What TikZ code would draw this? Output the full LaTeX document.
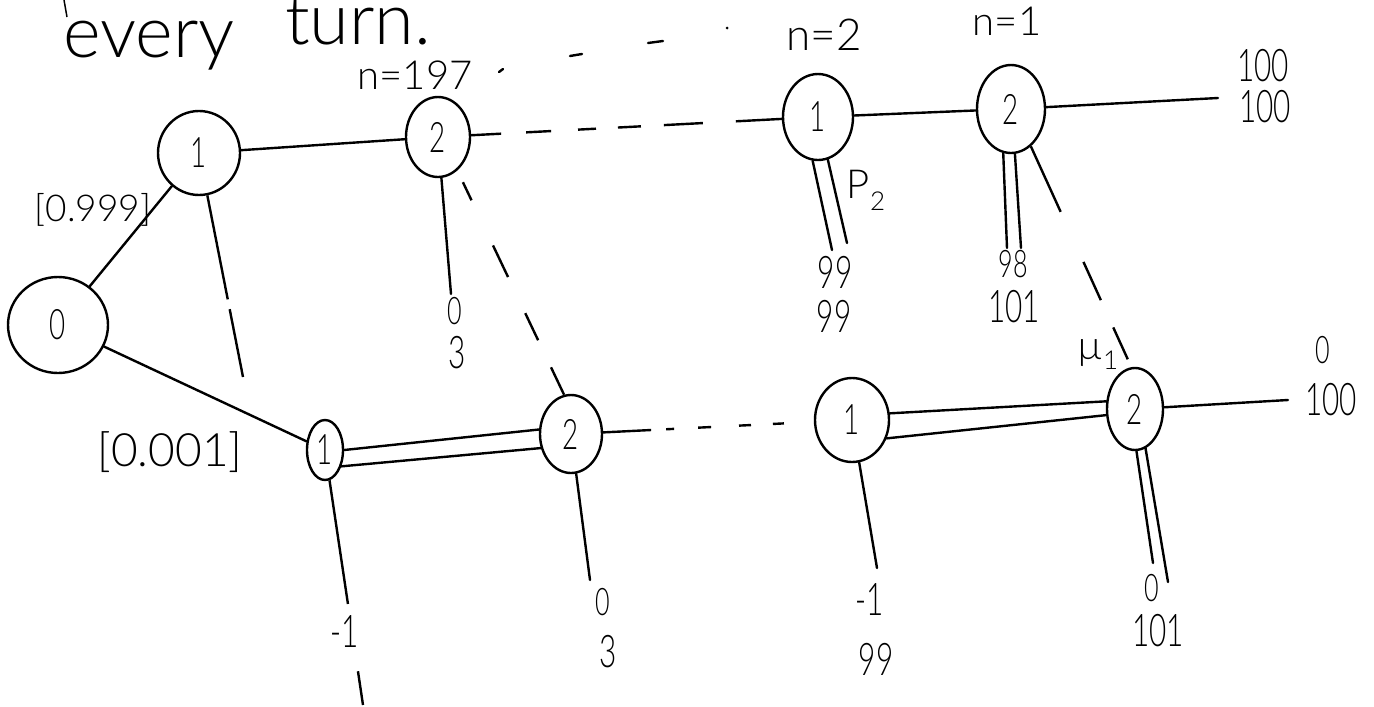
\documentclass[tikz,border=0pt]{standalone}
\usepackage{fontspec}
\usepackage{graphicx}
\setmainfont{Lato Light}
\usetikzlibrary{shapes.geometric}
\newcommand{\nar}[1]{\scalebox{0.66}[1]{#1}}
\begin{document}
\begin{tikzpicture}[x=1pt,y=-1pt,
  ink/.style={line width=2.4pt, line cap=round, line join=round},
  st/.style={ellipse, draw, line width=2.4pt, inner sep=0pt, font=\fontsize{42}{44}\selectfont},
  lab/.style={inner sep=0pt, font=\fontsize{45}{47}\selectfont},
  sml/.style={inner sep=0pt, font=\fontsize{38}{40}\selectfont},
  big/.style={inner sep=0pt, font=\fontsize{72}{74}\selectfont},
]
\fill[white] (0,0) rectangle (1374,707);
\useasboundingbox (0,0) rectangle (1374,707);

% heading
\node[big, anchor=base west] (every) at (63,57) {every};
\node[big, anchor=base west] (turn) at (285,44) {turn.};
\draw[line width=1.5pt] (64,0) -- (67,17);

% stage labels
\node[lab, font=\fontsize{40}{42}\selectfont] (n197) at (415,75) {n=197};
\node[lab, font=\fontsize{44}{46}\selectfont] (n2) at (824,35) {n=2};
\node[lab, font=\fontsize{40}{42}\selectfont] (n1) at (1007,21) {n=1};
\draw[ink] (499,72) -- (503,69);
\draw[ink] (570,56) -- (582,54);
\draw[ink] (648,43) -- (663,41);
\fill (727,28) circle (1.5pt);

% nodes
\node[st, minimum width=100pt, minimum height=96pt] (r0) at (58,325) {\nar{0}};
\node[st, minimum width=82pt, minimum height=84pt] (a1) at (199,153) {\nar{1}};
\node[st, minimum width=64pt, minimum height=80pt] (a2) at (438,137) {\nar{2}};
\node[st, minimum width=70pt, minimum height=86pt] (a3) at (818,117) {\nar{1}};
\node[st, minimum width=68pt, minimum height=88pt] (a4) at (1011,109) {\nar{2}};
\node[st, minimum width=36pt, minimum height=60pt] (b1) at (325,450) {\nar{1}};
\node[st, minimum width=62pt, minimum height=78pt] (b2) at (571,434) {\nar{2}};
\node[st, minimum width=74pt, minimum height=84pt] (b3) at (852,420) {\nar{1}};
\node[st, minimum width=56pt, minimum height=82pt] (b4) at (1135,409) {\nar{2}};

% free ends
\coordinate (a1d) at (243,377);
\coordinate (a2d) at (451,294);
\coordinate (a3p) at (832,250);
\coordinate (a3q) at (847,243);
\coordinate (a4p) at (1007,248);
\coordinate (a4q) at (1021,248);
\coordinate (a4r) at (1218,98);
\coordinate (b1d) at (363,705);
\coordinate (b2d) at (590,580);
\coordinate (b3d) at (877,568);
\coordinate (b4p) at (1153,563);
\coordinate (b4q) at (1168,582);
\coordinate (b4r) at (1288,400);

% connectors
\draw[ink] (r0) -- (a1);
\draw[ink] (r0) -- (b1);
\draw[ink] (a1) -- (a2);
\draw[ink, line cap=butt, dash pattern=on 106pt off 10pt on 70pt] (a1) -- (a1d);
\draw[ink] (a2) -- (a2d);
\draw[ink, line cap=butt, dash pattern=on 30pt off 25pt on 25pt off 27pt on 18pt off 22pt on 23pt off 23pt on 39pt off 33pt on 60pt] (a2) -- (a3);
\draw[ink, line cap=butt, shorten <=13pt, dash pattern=on 20pt off 50pt on 35pt off 40pt on 30pt off 30pt on 40pt] (a2.-60) -- (b2.100);
\draw[ink] (a3) -- (a4);
\draw[ink] (a3.-97) -- (a3p);
\draw[ink] (a3.-77) -- (a3q);
\draw[ink] (a4) -- (a4r);
\draw[ink] (a4.-100) -- (a4p);
\draw[ink] (a4.-85) -- (a4q);
\draw[ink, line cap=butt, dash pattern=on 72pt off 55pt on 42pt off 30pt on 35pt off 40pt] (a4.-62) -- (b4.95);
\draw[ink] (b1.0) -- (b2.172);
\draw[ink] (b1.-45) -- (b2.205);
\draw[ink, line cap=butt, dash pattern=on 125pt off 68pt on 40pt] (b1) -- (b1d);
\draw[ink] (b2) -- (b2d);
\draw[ink, line cap=butt, dash pattern=on 48pt off 15pt on 8pt off 24pt on 13pt off 28pt on 12pt off 22pt on 11pt off 40pt] (b2) -- (b3);
\draw[ink] (b3.10) -- (b4.165);
\draw[ink] (b3.-28) -- (b4.192);
\draw[ink] (b3) -- (b3d);
\draw[ink] (b4.-88) -- (b4p);
\draw[ink] (b4.-75) -- (b4q);
\draw[ink] (b4) -- (b4r);

% probabilities
\node[lab, font=\fontsize{37}{39}\selectfont] (p999) at (93,210) {[0.999]};
\node[lab, font=\fontsize{46}{48}\selectfont] (p001) at (170,452) {[0.001]};

% other labels
\node[lab, font=\fontsize{40}{42}\selectfont] (P2) at (866,190) {P\raisebox{-0.3em}{\fontsize{26}{26}\selectfont 2}};
\node[lab, font=\fontsize{40}{42}\selectfont] (mu1) at (1098,355) {µ\raisebox{-0.25em}{\fontsize{26}{26}\selectfont 1}};

% payoffs
\node[sml] (a2x) at (455,311) {\nar{0}};
\node[lab] (a2y) at (457,353) {\nar{3}};
\node[lab] (a3x) at (835,272) {\nar{99}};
\node[lab] (a3y) at (834,316) {\nar{99}};
\node[sml] (a4x) at (1013,264) {\nar{98}};
\node[lab] (a4y) at (1014,307) {\nar{101}};
\node[lab] (a4rx) at (1263,66) {\nar{100}};
\node[lab] (a4ry) at (1265,107) {\nar{100}};
\node[lab] (b1x) at (345,632) {\nar{-1}};
\node[sml] (b2x) at (603,602) {\nar{0}};
\node[lab] (b2y) at (608,652) {\nar{3}};
\node[lab] (b3x) at (870,600) {\nar{-1}};
\node[lab] (b3y) at (876,659) {\nar{99}};
\node[sml] (b4x) at (1152,588) {\nar{0}};
\node[lab] (b4y) at (1158,631) {\nar{101}};
\node[sml] (b4rx) at (1323,350) {\nar{0}};
\node[lab] (b4ry) at (1331,400) {\nar{100}};
\end{tikzpicture}
\end{document}
